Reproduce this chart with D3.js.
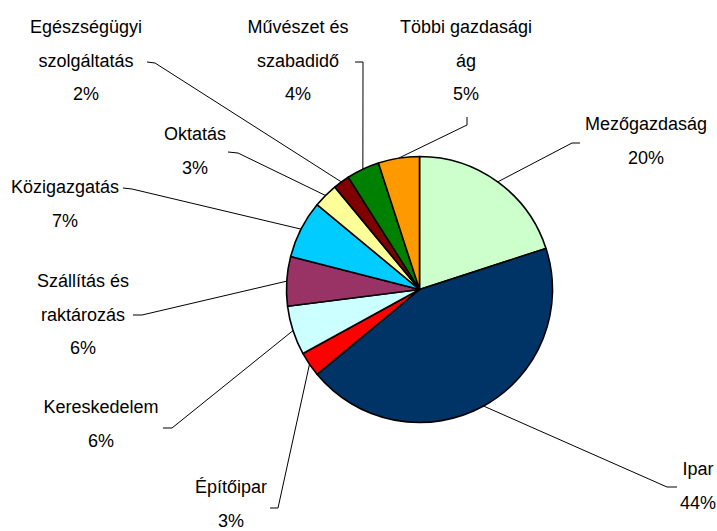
<!DOCTYPE html>
<html>
<head>
<meta charset="utf-8">
<script src="https://cdn.jsdelivr.net/npm/d3@7"></script>
<style>
  body { margin: 0; background: #fff; }
  svg { display: block; }
</style>
</head>
<body>
<div id="pie"></div>
<script>
// data, clockwise from 12 o'clock
const categories = ["Mezőgazdaság", "Ipar", "Építőipar", "Kereskedelem", "Szállítás és raktározás",
                    "Közigazgatás", "Oktatás", "Egészségügyi szolgáltatás", "Művészet és szabadidő", "Többi gazdasági ág"];
const categoryLines = [["Mezőgazdaság"], ["Ipar"], ["Építőipar"], ["Kereskedelem"], ["Szállítás és", "raktározás"],
                       ["Közigazgatás"], ["Oktatás"], ["Egészségügyi", "szolgáltatás"], ["Művészet és", "szabadidő"], ["Többi gazdasági", "ág"]];
const values = [20, 44, 3, 6, 6, 7, 3, 2, 4, 5];
const colors = ["#CCFFCC", "#003366", "#FF0000", "#CCFFFF", "#993366",
                "#00CCFF", "#FFFF99", "#800000", "#008000", "#FF9900"];

// label placement (text centre x, first baseline y, stub of the leader line)
const labelLayout = [
    {x: 646, y: 130, stub: [[580, 143], [572, 143]]},
    {x: 698, y: 475, stub: [[677, 487], [667, 487]]},
    {x: 231, y: 493, stub: [[270, 508], [278, 508]]},
    {x: 101, y: 413, stub: [[163, 428], [172, 428]]},
    {x: 83,  y: 287, stub: [[133, 315], [142, 315]]},
    {x: 65,  y: 193, stub: [[123, 188], [132, 189]]},
    {x: 195, y: 140, stub: [[228, 152], [238, 153]]},
    {x: 86,  y: 33,  stub: [[147, 62], [155, 63]]},
    {x: 298, y: 33,  stub: [[355, 62], [363, 62]]},
    {x: 466, y: 33,  stub: [[467, 117], [467, 125]]}
];

const width = 717, height = 531;
const cx = 419.5, cy = 289.5, radius = 133;
const lineStep = 33.5;

const svg = d3.select("#pie")
  .append("svg")
    .attr("width", width)
    .attr("height", height);

const data = categories.map((c, i) => ({name: c, lines: categoryLines[i], value: values[i], color: colors[i], layout: labelLayout[i]}));

const pie = d3.pie()
    .sort(null)
    .value(d => d.value);

const arcs = pie(data);

const arc = d3.arc()
    .innerRadius(0)
    .outerRadius(radius);

// edge point for leader lines
const edge = d3.arc()
    .innerRadius(radius)
    .outerRadius(radius);

const g = svg.append("g")
    .attr("transform", `translate(${cx},${cy})`);

// leader lines first, under the slices
svg.append("g")
  .selectAll("path")
  .data(arcs)
  .join("path")
    .attr("fill", "none")
    .attr("stroke", "#000")
    .attr("stroke-width", 1)
    .attr("d", d => {
        const p = edge.centroid(d);
        const pts = d.data.layout.stub.concat([[cx + p[0], cy + p[1]]]);
        return d3.line()(pts);
    });

g.selectAll("path")
  .data(arcs)
  .join("path")
    .attr("d", arc)
    .attr("fill", d => d.data.color)
    .attr("stroke", "#000")
    .attr("stroke-width", 1.6)
    .attr("stroke-linejoin", "round");

// labels
const labels = svg.append("g")
    .style("font-family", "'Liberation Sans', Arial, sans-serif")
    .style("font-size", "18px")
    .attr("fill", "#000")
    .attr("text-anchor", "middle")
  .selectAll("text")
  .data(arcs)
  .join("text")
    .attr("x", d => d.data.layout.x)
    .attr("y", d => d.data.layout.y);

labels.selectAll("tspan")
  .data(d => d.data.lines.concat([Math.round(d.data.value) + "%"]).map(t => ({t: t, x: d.data.layout.x})))
  .join("tspan")
    .attr("x", d => d.x)
    .attr("dy", (d, i) => i === 0 ? 0 : lineStep)
    .text(d => d.t);
</script>
</body>
</html>
